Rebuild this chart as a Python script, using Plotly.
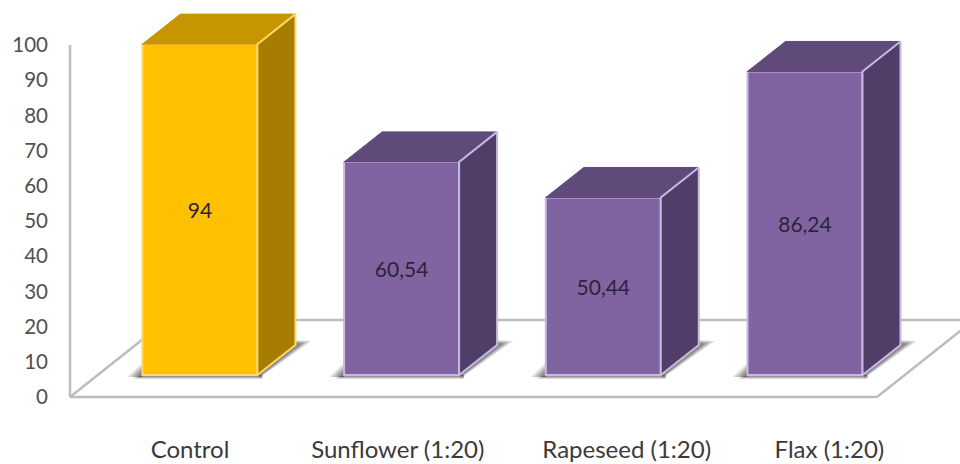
import plotly.graph_objects as go

# Chart data
categories = ["Control", "Sunflower (1:20)", "Rapeseed (1:20)", "Flax (1:20)"]
values = [94, 60.54, 50.44, 86.24]
value_labels = ["94", "60,54", "50,44", "86,24"]
y_ticks = [0, 10, 20, 30, 40, 50, 60, 70, 80, 90, 100]

# Where each category label sits along the floor, in category units
label_positions = [0.595, 1.625, 2.76, 3.765]

# Pixel scale of the two axes
PX_X = 201.7
PX_Y = 3.52

# Oblique projection of the box and the floor, in axis units
BAR_CENTER = 0.644
BAR_WIDTH = 115 / PX_X
BAR_BASE = 22 / PX_Y
DEPTH_X = 38 / PX_X
DEPTH_Y = 30 / PX_Y
FLOOR_X = 97 / PX_X
FLOOR_Y = 77 / PX_Y
FLOOR_LEN = 807 / PX_X

FACE = ["#FFC000", "#8064A2", "#8064A2", "#8064A2"]
TOP = ["#C79500", "#5F4A7A", "#5F4A7A", "#5F4A7A"]
SIDE = ["#A67D00", "#503E68", "#503E68", "#503E68"]
EDGE = ["#FFD966", "#C9B9E2", "#C9B9E2", "#C9B9E2"]
AXIS_COLOR = "#BDBDBD"
FONT = "Lato"

fig = go.Figure()

centers = [i + BAR_CENTER for i in range(len(values))]

# Floor outline, kept beneath the bars
shapes = []


def floor_line(x0, y0, x1, y1):
    shapes.append(dict(type="line", layer="below", x0=x0, y0=y0, x1=x1, y1=y1,
                       line=dict(color=AXIS_COLOR, width=2.5)))


floor_line(0, 0, 0, 100)
floor_line(0, 0, FLOOR_LEN, 0)
floor_line(0, 0, FLOOR_X, FLOOR_Y)
floor_line(FLOOR_LEN, 0, FLOOR_LEN + FLOOR_X, FLOOR_Y)
floor_line(FLOOR_X, FLOOR_Y, FLOOR_LEN + FLOOR_X, FLOOR_Y)


def polygon_path(points):
    return "M " + " L ".join(f"{x} {y}" for x, y in points) + " Z"


# Soft cast shadows around each bar foot, built up from translucent layers
for c in centers:
    left = c - BAR_WIDTH / 2
    right = c + BAR_WIDTH / 2
    base = BAR_BASE
    for grow, alpha in ((1.0, 0.16), (0.8, 0.2), (0.6, 0.24), (0.4, 0.28)):
        wedge_right = [
            (right + 2 / PX_X, base - 3 * grow / PX_Y),
            (right + DEPTH_X + 16 * grow / PX_X, base + DEPTH_Y + 4 * grow / PX_Y),
            (right + DEPTH_X, base + DEPTH_Y + 5 * grow / PX_Y),
            (right, base),
        ]
        wedge_left = [
            (left - 15 * grow / PX_X, base - 2 / PX_Y),
            (left, base + 12 * grow / PX_Y),
            (left, base - 2 / PX_Y),
        ]
        foot = [
            (left - 10 * grow / PX_X, base - 4 * grow / PX_Y),
            (right + 5 / PX_X, base - 4 * grow / PX_Y),
            (right + 5 / PX_X, base),
            (left, base),
        ]
        for pts in (wedge_right, wedge_left, foot):
            shapes.append(dict(type="path", layer="below", path=polygon_path(pts),
                               fillcolor=f"rgba(70,70,70,{alpha})",
                               line=dict(width=0)))

# Front faces with their value labels
fig.add_trace(go.Bar(
    x=centers,
    y=values,
    base=[BAR_BASE] * len(values),
    width=BAR_WIDTH,
    marker=dict(color=FACE, line=dict(color=EDGE, width=2)),
    text=value_labels,
    textposition="inside",
    insidetextanchor="middle",
    textangle=0,
    constraintext="none",
    textfont=dict(family=FONT, size=21, color="#2B2438"),
    hoverinfo="skip",
))

# Top and side faces projected from each value
for c, v, top, side, edge in zip(centers, values, TOP, SIDE, EDGE):
    left = c - BAR_WIDTH / 2
    right = c + BAR_WIDTH / 2
    low = BAR_BASE
    high = BAR_BASE + v
    fig.add_trace(go.Scatter(
        x=[left, left + DEPTH_X, right + DEPTH_X, right, left],
        y=[high, high + DEPTH_Y, high + DEPTH_Y, high, high],
        mode="lines", fill="toself", fillcolor=top,
        line=dict(color=top, width=1), hoverinfo="skip",
    ))
    fig.add_trace(go.Scatter(
        x=[right, right + DEPTH_X, right + DEPTH_X, right, right],
        y=[low, low + DEPTH_Y, high + DEPTH_Y, high, low],
        mode="lines", fill="toself", fillcolor=side,
        line=dict(color=edge, width=2), hoverinfo="skip",
    ))

fig.update_layout(
    width=960,
    height=464,
    autosize=False,
    margin=dict(l=60, r=0, t=0, b=60),
    paper_bgcolor="white",
    plot_bgcolor="white",
    showlegend=False,
    shapes=shapes,
    xaxis=dict(
        range=[-10 / PX_X, 890 / PX_X],
        tickmode="array",
        tickvals=label_positions,
        ticktext=categories,
        tickfont=dict(family=FONT, size=24, color="#3A3A3A"),
        showgrid=False,
        zeroline=False,
        showline=False,
        ticks="",
        ticklabelstandoff=29,
        fixedrange=True,
    ),
    yaxis=dict(
        range=[-7 / PX_Y, 397 / PX_Y],
        tickmode="array",
        tickvals=y_ticks,
        ticktext=[str(t) for t in y_ticks],
        tickfont=dict(family=FONT, size=20.5, color="#505050"),
        showgrid=False,
        zeroline=False,
        showline=False,
        ticks="",
        ticklabelstandoff=11,
        fixedrange=True,
    ),
)

fig.write_html("out.html")
